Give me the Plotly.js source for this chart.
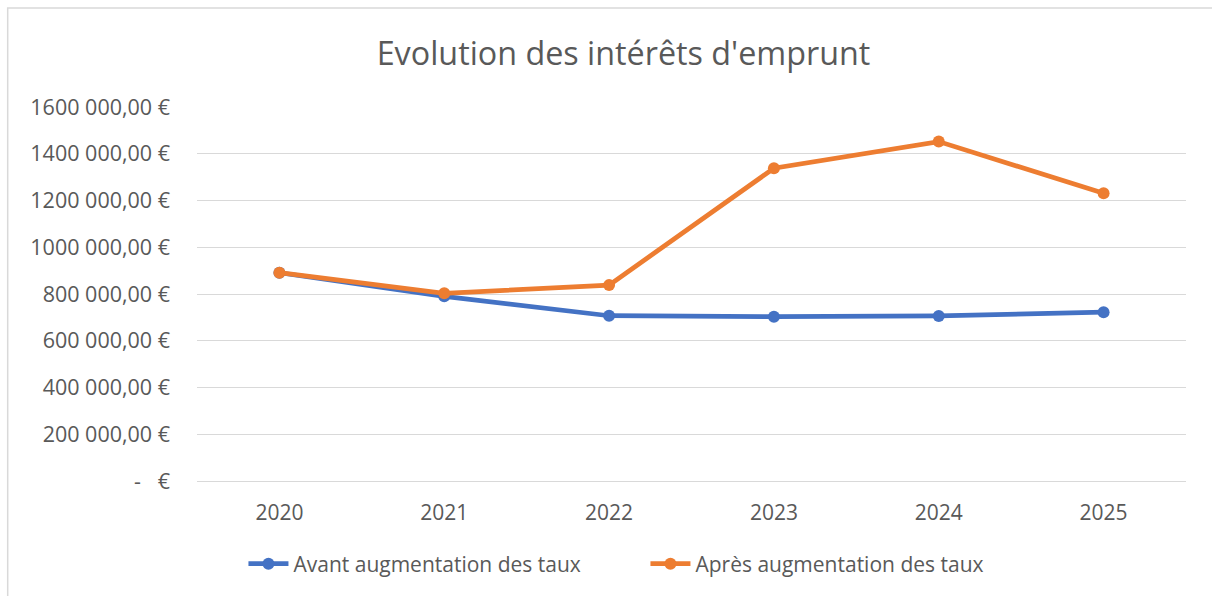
<!DOCTYPE html>
<html>
<head>
<meta charset="utf-8">
<script src="https://cdn.plot.ly/plotly-3.0.1.min.js"></script>
<style>
html,body{margin:0;padding:0;background:#fff;overflow:hidden;}
#chart{width:1212px;height:596px;}
</style>
</head>
<body>
<div id="chart"></div>
<script>
const years = ["2020", "2021", "2022", "2023", "2024", "2025"];
const avant = [891000, 790000, 707000, 703000, 706000, 722000];
const apres = [891000, 803000, 838000, 1338000, 1452000, 1231000];
const seriesNames = ["Avant augmentation des taux", "Après augmentation des taux"];
const tickValues = [0, 200000, 400000, 600000, 800000, 1000000, 1200000, 1400000, 1600000];
const tickLabels = ["-\u00a0\u00a0\u00a0€", "200 000,00 €", "400 000,00 €", "600 000,00 €", "800 000,00 €",
  "1000 000,00 €", "1200 000,00 €", "1400 000,00 €", "1600 000,00 €"];
const chartTitle = "Evolution des intérêts d'emprunt";

const FONT = "'Open Sans', 'Liberation Sans', sans-serif";
const GREY = "#595959";

const traces = [
  {x: years, y: avant, name: seriesNames[0], type: "scatter", mode: "lines+markers",
   line: {color: "#4472C4", width: 4.75}, marker: {color: "#4472C4", size: 12}},
  {x: years, y: apres, name: seriesNames[1], type: "scatter", mode: "lines+markers",
   line: {color: "#ED7D31", width: 4.75}, marker: {color: "#ED7D31", size: 12}}
];

const L = 196.5, R = 25.5, T = 107, B = 115;
const PW = 1212 - L - R, PH = 596 - T - B;

const layout = {
  width: 1212, height: 596,
  margin: {l: L, r: R, t: T, b: B, pad: 0},
  paper_bgcolor: "#ffffff", plot_bgcolor: "#ffffff",
  font: {family: FONT, color: GREY, size: 21},
  title: {text: chartTitle, x: 623.5/1212, xanchor: "center", xref: "container",
          y: 1 - 54/596, yanchor: "middle", yref: "container",
          font: {family: FONT, size: 32.3, color: GREY}},
  xaxis: {type: "category", range: [-0.5, 5.5], showgrid: false, zeroline: false,
          showline: true, linecolor: "#d9d9d9", linewidth: 1, ticks: "",
          ticklabelstandoff: 13, tickfont: {family: FONT, size: 21, color: GREY}, fixedrange: true},
  yaxis: {range: [0, 1600000], tickvals: tickValues, ticktext: tickLabels,
          showgrid: true, gridcolor: "#d9d9d9", gridwidth: 1, zeroline: false, showline: false,
          ticks: "", ticklabelstandoff: 26, tickfont: {family: FONT, size: 21.5, color: GREY}, fixedrange: true},
  showlegend: true,
  legend: {orientation: "h", x: (243 - L)/PW, xanchor: "left", y: (481 - 564)/PH, yanchor: "middle",
           font: {family: FONT, size: 21, color: GREY}, entrywidth: 347, itemwidth: 40,
           bgcolor: "rgba(0,0,0,0)"},
  shapes: [{type: "rect", xref: "paper", yref: "paper",
            x0: (7 - L)/PW, x1: (1216 - L)/PW, y0: (481 - 600)/PH, y1: (481 - 8)/PH,
            line: {color: "#d9d9d9", width: 1.5}, fillcolor: "rgba(0,0,0,0)", layer: "below"}]
};

Plotly.newPlot("chart", traces, layout, {displayModeBar: false, staticPlot: true});
</script>
</body>
</html>
